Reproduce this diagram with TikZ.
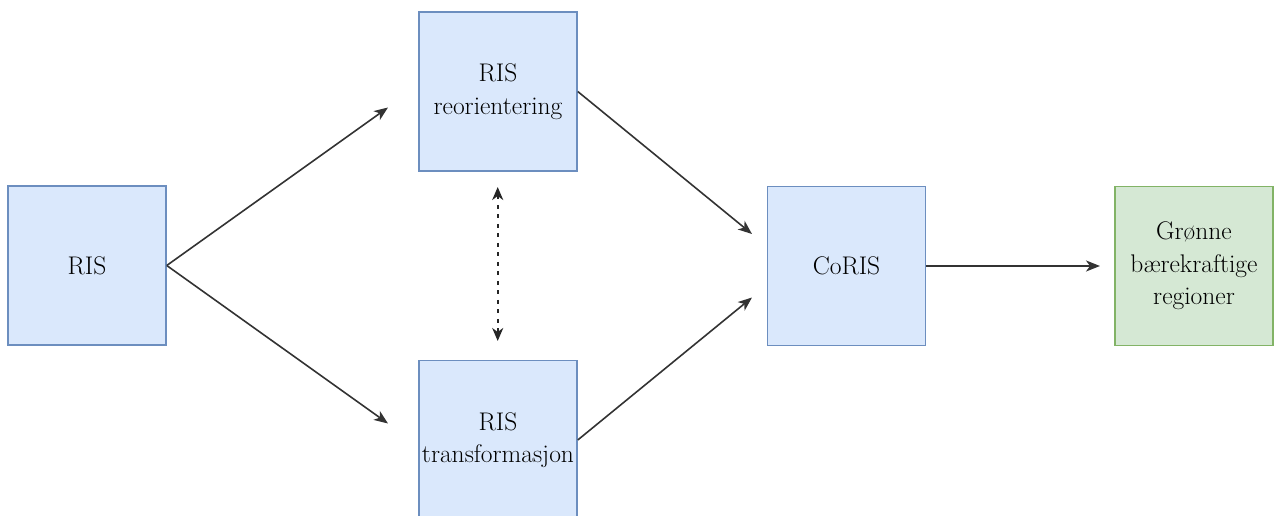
\documentclass[tikz,border=0pt]{standalone}
\usepackage{fontspec}
\usetikzlibrary{arrows.meta}
\definecolor{bluefill}{HTML}{DAE8FC}
\definecolor{bluedraw}{HTML}{6C8EBF}
\definecolor{greenfill}{HTML}{D5E8D4}
\definecolor{greendraw}{HTML}{82B366}
\tikzset{
  box/.style={draw=bluedraw, fill=bluefill, line width=1.5pt, minimum width=158pt, minimum height=159pt, inner sep=0pt, align=center, font=\fontsize{25.5}{32.5}\selectfont, text=black},
  greenbox/.style={box, draw=greendraw, fill=greenfill},
  conn/.style={draw=black!80, line width=1.6pt, -{Stealth[length=14pt,width=11pt,inset=4pt]}},
  dotconn/.style={draw=black!85, line width=2pt, dash pattern=on 4pt off 5.5pt, {Stealth[length=13pt,width=11pt,inset=4pt]}-{Stealth[length=13pt,width=11pt,inset=4pt]}}
}
\begin{document}
\begin{tikzpicture}[x=1pt,y=-1pt]
\useasboundingbox (0,0) rectangle (1274,516);
\begin{scope}
\clip (0,0) rectangle (1274,516);
\node[box] (ris) at (87,265.5) {RIS};
\node[box] (reor) at (498,91.5) {RIS\\reorientering};
\node[box] (trans) at (498,440) {RIS\\transformasjon};
\node[box] (coris) at (846.5,266) {CoRIS};
\node[greenbox] (gronn) at (1194,266) {Grønne\\bærekraftige\\regioner};
\coordinate (e1) at (388,107.5);
\coordinate (e2) at (388,423.5);
\coordinate (e3) at (752,234);
\coordinate (e4) at (752,297.5);
\coordinate (e5) at (1100,266);
\coordinate (d1) at (497.7,187);
\coordinate (d2) at (497.7,341);
\draw[conn] (ris.east) -- (e1);
\draw[conn] (ris.east) -- (e2);
\draw[conn] (reor.east) -- (e3);
\draw[conn] (trans.east) -- (e4);
\draw[conn] (coris.east) -- (e5);
\draw[dotconn] (d1) -- (d2);
\end{scope}
\end{tikzpicture}
\end{document}
